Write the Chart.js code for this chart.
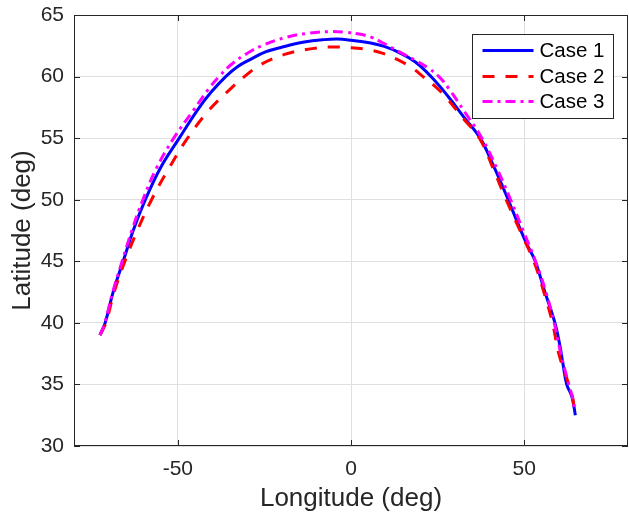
<!DOCTYPE html>
<html><head><meta charset="utf-8">
<script src="https://cdn.jsdelivr.net/npm/chart.js@4/dist/chart.umd.min.js"></script>
<style>html,body{margin:0;padding:0;background:#fff;} #wrap{width:629px;height:516px;}</style>
</head><body><div id="wrap"><canvas id="c" width="629" height="516"></canvas></div>
<script>
const seriesNames = ['Case 1', 'Case 2', 'Case 3'];

const lonCase1 = [-72.5, -71.0, -68.7, -65.8, -62.9, -59.4, -55.0, -49.6, -44.3, -40.5, -36.2, -32.8, -29.0, -24.7, -19.8, -13.5, -7.7, -3.9, 0.1, 5.3, 9.6, 13.9, 18.5, 23.1, 28.0, 32.6, 37.3, 41.4, 45.1, 48.3, 50.6, 53.2, 56.0, 58.9, 60.3, 61.2, 62.3, 63.8, 64.8];
const latCase1 = [39.0, 40, 42.5, 45, 47.5, 50, 52.6, 55, 57.3, 58.7, 60, 60.8, 61.4, 62.0, 62.4, 62.8, 63.0, 63.05, 62.95, 62.75, 62.45, 61.95, 61.2, 60.0, 58.4, 56.7, 55.0, 52.6, 50.2, 48.0, 46.5, 45.0, 42.5, 40.0, 38.2, 36.7, 35.0, 34.0, 32.5];

const lonCase2 = [-72.5, -70.8, -68.4, -65.3, -61.7, -57.6, -52.7, -47.2, -40.9, -34.8, -30.8, -25.9, -19.2, -12.9, -6.3, 0, 4.7, 9.0, 13.3, 17.4, 20.8, 24.3, 27.5, 32.4, 37.1, 41.1, 44.8, 48.8, 52.8, 55.7, 58.2, 60.0, 62.9, 64.1, 64.6];
const latCase2 = [39.0, 40, 42.5, 45, 47.5, 50, 52.5, 55, 57.3, 59, 60, 61.0, 61.8, 62.2, 62.4, 62.35, 62.2, 61.9, 61.4, 60.75, 60.0, 59.2, 58.3, 56.6, 55.0, 52.5, 50, 47.5, 45, 42.5, 40, 37.5, 35, 33.8, 32.8];

const lonCase3 = [-72.5, -71.1, -68.8, -66.1, -63.3, -60.1, -56.3, -51.2, -45.4, -41.1, -38.1, -34.5, -29.9, -25.0, -18.6, -12.9, -6.3, -1.9, 2.4, 5.8, 9.1, 14.0, 18.7, 22.0, 25.4, 28.3, 32.9, 37.8, 42.2, 46.1, 49.7, 53.3, 56.3, 58.7, 60.6, 62.9, 64.1, 64.6];
const latCase3 = [39.0, 40, 42.5, 45, 47.5, 50, 52.5, 55, 57.3, 59, 60, 61.0, 61.9, 62.6, 63.2, 63.5, 63.65, 63.6, 63.45, 63.2, 62.75, 62.0, 61.3, 60.75, 60.0, 59.0, 57.1, 55, 52.5, 50, 47.5, 45, 42.5, 40, 37.5, 35, 33.8, 32.8];

const xTickValues = [-50, 0, 50];
const yTickValues = [30, 35, 40, 45, 50, 55, 60, 65];

const FONT = '"Liberation Sans", Arial, Helvetica, sans-serif';
const TXT = '#262626';

function zip(xs, ys) { return xs.map((v, i) => ({x: v, y: ys[i]})); }

const framePlugin = {
  id: 'frame',
  afterDraw(chart) {
    const {ctx, chartArea: {left, right, top, bottom}, scales: {x, y}} = chart;
    ctx.save();
    ctx.strokeStyle = TXT;
    ctx.lineWidth = 1;
    ctx.strokeRect(left + 0.5, top + 0.5, right - left - 1, bottom - top - 1);
    const tl = 6;
    ctx.beginPath();
    x.ticks.forEach(t => {
      const px = Math.round(x.getPixelForValue(t.value)) + 0.5;
      ctx.moveTo(px, bottom); ctx.lineTo(px, bottom - tl);
      ctx.moveTo(px, top); ctx.lineTo(px, top + tl);
    });
    y.ticks.forEach(t => {
      const py = Math.round(y.getPixelForValue(t.value)) + 0.5;
      ctx.moveTo(left, py); ctx.lineTo(left + tl, py);
      ctx.moveTo(right, py); ctx.lineTo(right - tl, py);
    });
    ctx.stroke();
    ctx.restore();
  }
};

const legendPlugin = {
  id: 'boxLegend',
  afterDraw(chart) {
    const {ctx, chartArea} = chart;
    const w = 141, h = 84;
    const x0 = Math.round(chartArea.right - 15.5 - w) + 0.5;
    const y0 = Math.round(chartArea.top + 19) + 0.5;
    ctx.save();
    ctx.fillStyle = '#ffffff';
    ctx.fillRect(x0, y0, w, h);
    ctx.strokeStyle = TXT;
    ctx.lineWidth = 1;
    ctx.strokeRect(x0, y0, w, h);
    const rowY = [16, 42, 67];
    chart.data.datasets.forEach((ds, i) => {
      const yy = y0 + rowY[i];
      ctx.beginPath();
      ctx.setLineDash(ds.borderDash || []);
      ctx.lineDashOffset = 0;
      ctx.strokeStyle = ds.borderColor;
      ctx.lineWidth = ds.borderWidth;
      ctx.moveTo(x0 + 10, yy);
      ctx.lineTo(x0 + 61, yy);
      ctx.stroke();
      ctx.setLineDash([]);
      ctx.fillStyle = '#000';
      ctx.font = '20.5px ' + FONT;
      ctx.textBaseline = 'middle';
      ctx.textAlign = 'left';
      ctx.fillText(ds.label, x0 + 67, yy + 1);
    });
    ctx.restore();
  }
};

new Chart(document.getElementById('c').getContext('2d'), {
  type: 'line',
  data: {
    datasets: [
      {label: seriesNames[0], data: zip(lonCase1, latCase1), borderColor: '#0000ff', borderWidth: 3, pointRadius: 0, tension: 0.4, fill: false, order: 2},
      {label: seriesNames[1], data: zip(lonCase2, latCase2), borderColor: '#ff0000', borderWidth: 3, borderDash: [12, 11], pointRadius: 0, tension: 0.4, fill: false, order: 1},
      {label: seriesNames[2], data: zip(lonCase3, latCase3), borderColor: '#ff00ff', borderWidth: 3, borderDash: [10, 5, 3, 5], pointRadius: 0, tension: 0.4, fill: false, order: 0}
    ]
  },
  options: {
    responsive: false,
    animation: false,
    devicePixelRatio: 1,
    layout: {padding: {top: 15, right: 1, left: 0, bottom: 0}},
    plugins: {legend: {display: false}, tooltip: {enabled: false}},
    scales: {
      x: {
        type: 'linear', min: -80, max: 80,
        afterBuildTicks: s => { s.ticks = xTickValues.map(v => ({value: v})); },
        afterFit: s => { s.height = 70; s.paddingLeft = 0; s.paddingRight = 0; },
        grid: {color: '#dfdfdf', lineWidth: 1, drawTicks: false},
        border: {display: false},
        ticks: {font: {family: FONT, size: 21}, color: TXT, padding: 11, maxRotation: 0, autoSkip: false},
        title: {display: true, text: 'Longitude (deg)', font: {family: FONT, size: 26, lineHeight: 1}, color: TXT, padding: {top: 0, bottom: 4}}
      },
      y: {
        type: 'linear', min: 30, max: 65,
        afterBuildTicks: s => { s.ticks = yTickValues.map(v => ({value: v})); },
        afterFit: s => { s.width = 74; s.paddingTop = 0; s.paddingBottom = 0; },
        grid: {color: '#dfdfdf', lineWidth: 1, drawTicks: false},
        border: {display: false},
        ticks: {font: {family: FONT, size: 21}, color: TXT, padding: 10, autoSkip: false},
        title: {display: true, text: 'Latitude (deg)', font: {family: FONT, size: 26, lineHeight: 1}, color: TXT, padding: {top: 10, bottom: 0}}
      }
    }
  },
  plugins: [framePlugin, legendPlugin]
});
</script>
</body></html>
